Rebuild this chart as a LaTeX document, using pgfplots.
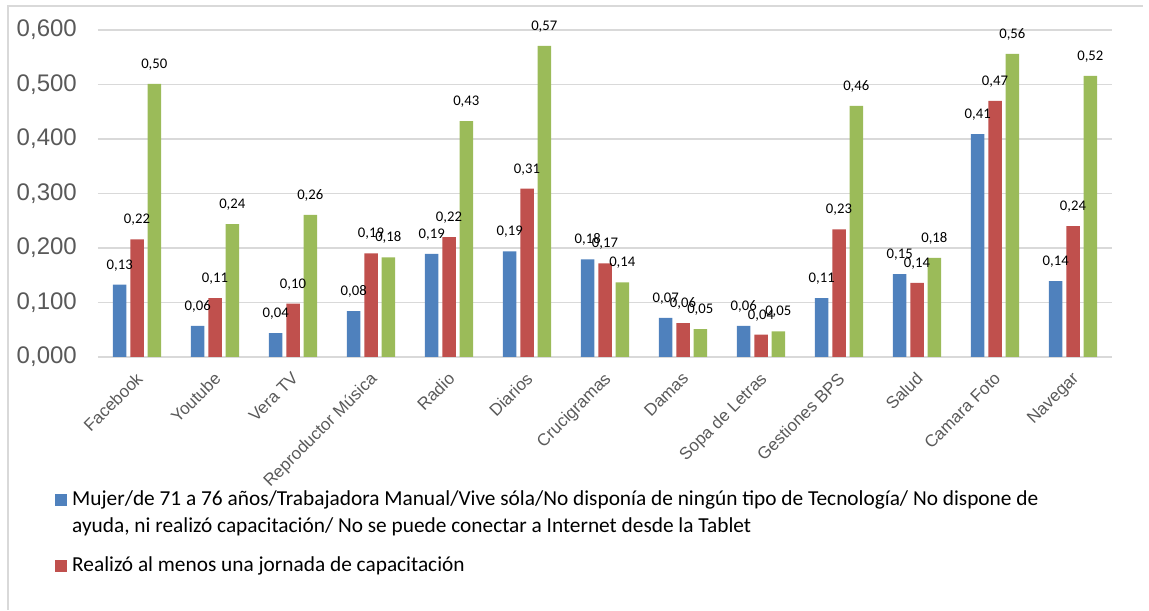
\documentclass[border=0pt]{standalone}
\usepackage{pgfplots}
\usepackage{pgfplotstable}
\pgfplotsset{compat=1.18}
\usepackage{fontspec}
\setmainfont{Liberation Sans}
\newfontfamily\calibri{Carlito}
\definecolor{cblue}{HTML}{4F81BD}
\definecolor{cred}{HTML}{C0504D}
\definecolor{cgreen}{HTML}{9BBB59}
\definecolor{gridgray}{HTML}{D9D9D9}
\definecolor{tickgray}{HTML}{595959}
\pgfplotstableread{
x a b c
0 0.133 0.216 0.501
1 0.057 0.108 0.244
2 0.044 0.098 0.261
3 0.084 0.190 0.183
4 0.189 0.220 0.433
5 0.194 0.309 0.571
6 0.179 0.172 0.137
7 0.072 0.062 0.051
8 0.057 0.041 0.047
9 0.108 0.234 0.461
10 0.152 0.136 0.182
11 0.409 0.470 0.556
12 0.139 0.240 0.516
}\datatable
\begin{document}
\begin{tikzpicture}[x=1pt,y=1pt]
\path (0,0) rectangle (1149,610);
\draw[gridgray, line width=1.3pt] (8,0) -- (8,604) -- (1143,604);
\begin{axis}[
  at={(98pt,253pt)}, anchor=south west,
  scale only axis, width=1014pt, height=327pt,
  ymin=0, ymax=0.6, xmin=-0.5, xmax=12.5,
  ytick={0,0.1,...,0.6},
  xtick=data,
  xticklabels={Facebook,Youtube,Vera TV,Reproductor Música,Radio,Diarios,Crucigramas,Damas,Sopa de Letras,Gestiones BPS,Salud,Camara Foto,Navegar},
  ybar=3.8pt, bar width=13.5pt,
  axis line style={draw=none},
  major tick length=0pt,
  ymajorgrids, grid style={gridgray, line width=1.3pt},
  /pgf/number format/assume math mode=true,
  yticklabel style={font=\fontsize{24}{28}\selectfont, text=tickgray, inner sep=0pt, xshift=-21pt,
    /pgf/number format/.cd, fixed, fixed zerofill, precision=3, use comma},
  xticklabel style={font=\fontsize{17}{20}\selectfont, text=tickgray, inner sep=0pt, xshift=-2pt, yshift=-14pt, rotate=45, anchor=north east},
  nodes near coords={\pgfmathprintnumber[fixed, fixed zerofill, precision=2, use comma, assume math mode=true]{\pgfplotspointmeta}},
  nodes near coords style={font=\calibri\fontsize{14.7}{18}\selectfont, anchor=base, inner sep=0pt, yshift=15.5pt, text=black},
]
\addplot[fill=cblue, draw=none] table[x=x,y=a]{\datatable};
\addplot[fill=cred, draw=none] table[x=x,y=b]{\datatable};
\addplot[fill=cgreen, draw=none] table[x=x,y=c]{\datatable};
\end{axis}
% legend
\fill[cblue] (55,104) rectangle (66.5,115.5);
\node[anchor=base west, inner sep=0pt, font=\calibri\fontsize{21.33}{27}\selectfont] at (72,104)
  {Mujer/de 71 a 76 años/Trabajadora Manual/Vive sóla/No disponía de ningún tipo de Tecnología/ No dispone de};
\node[anchor=base west, inner sep=0pt, font=\calibri\fontsize{21.33}{27}\selectfont] at (72,77)
  {ayuda, ni realizó capacitación/ No se puede conectar a Internet desde la Tablet};
\fill[cred] (55,38) rectangle (66.5,49.5);
\node[anchor=base west, inner sep=0pt, font=\calibri\fontsize{21.33}{27}\selectfont] at (72,38)
  {Realizó al menos una jornada de capacitación};
\end{tikzpicture}
\end{document}
